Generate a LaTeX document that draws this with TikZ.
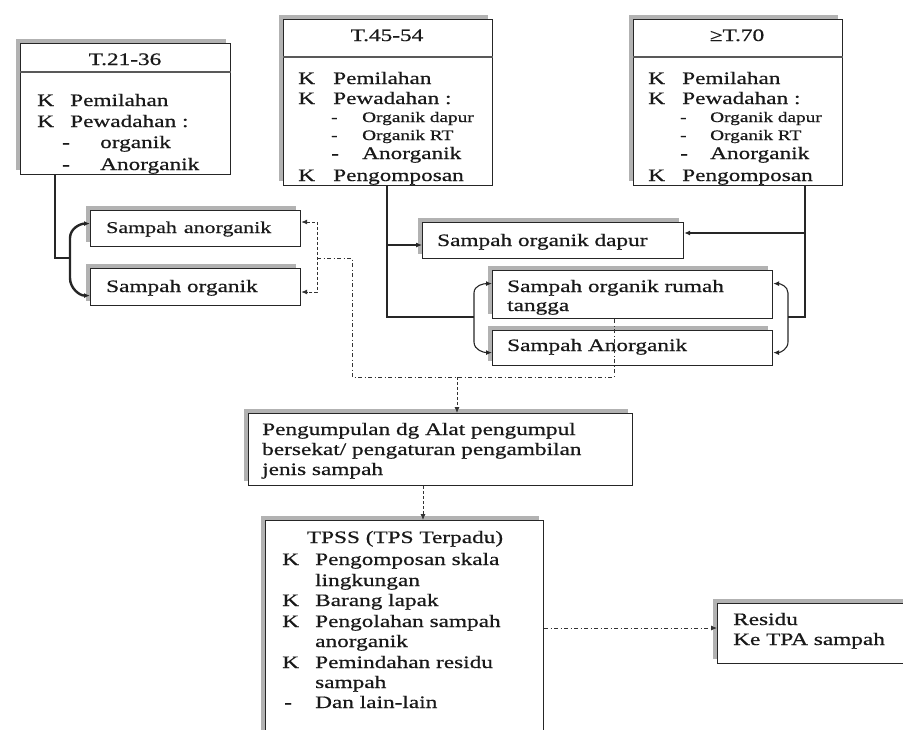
\documentclass[tikz,border=0pt]{standalone}
\usepackage{fontspec}
\setmainfont{Liberation Serif}[FakeStretch=1.33,FakeBold=0.6]
\usetikzlibrary{shadows,arrows.meta}
\begin{document}
\begin{tikzpicture}[x=1pt,y=-1pt,
  box/.style={draw=black!85, line width=1.2pt, fill=white, inner sep=0pt, anchor=north west,
    general shadow={fill=gray!60, shadow xshift=-4.5pt, shadow yshift=4.5pt}},
  t/.style={anchor=base west, inner sep=0pt, font=\fontsize{17.5}{20}\selectfont, text=black!90},
  ts/.style={t, font=\fontsize{14.5}{17}\selectfont},
  tc/.style={t, anchor=base},
  ln/.style={line width=1.1pt, draw=black!85},
  arr/.style={-{Latex[length=6pt,width=5pt]}},
  barr/.style={{Latex[length=6pt,width=5pt]}-{Latex[length=6pt,width=5pt]}},
  dd/.style={line width=0.9pt, draw=black!80, dash pattern=on 4pt off 2.5pt on 1pt off 2.5pt},
  hdr/.style={line width=1.5pt, draw=black!65}
]
\useasboundingbox (0,0) rectangle (903,729);
\clip (0,0) rectangle (903,729);

% ---------- top boxes ----------
\node[box, minimum width=210pt, minimum height=131pt] (b1) at (20,43) {};
\draw[hdr] ([yshift=-29pt]b1.north west) -- ([yshift=-29pt]b1.north east);
\node[box, minimum width=209pt, minimum height=166pt] (b2) at (283,19) {};
\draw[hdr] ([yshift=-38pt]b2.north west) -- ([yshift=-38pt]b2.north east);
\node[box, minimum width=209pt, minimum height=166pt] (b3) at (633,19) {};
\draw[hdr] ([yshift=-38pt]b3.north west) -- ([yshift=-38pt]b3.north east);

\begin{scope}
\clip (b1.north west) rectangle (b1.south east);
\node[tc] (b1h) at (125,65) {T.21-36};
\node[t] (b1k1) at (37,106) {K}; \node[t] (b1l1) at (70,106) {Pemilahan};
\node[t] (b1k2) at (37,127) {K}; \node[t] (b1l2) at (70,127) {Pewadahan :};
\node[t] (b1d3) at (62,148) {-}; \node[t] (b1l3) at (100,148) {organik};
\node[t] (b1d4) at (62,170) {-}; \node[t] (b1l4) at (100,170) {Anorganik};
\end{scope}

\begin{scope}
\clip (b2.north west) rectangle (b2.south east);
\node[tc] (b2h) at (387,41) {T.45-54};
\node[t] (b2k1) at (298,84) {K}; \node[t] (b2l1) at (333,84) {Pemilahan};
\node[t] (b2k2) at (298,104) {K}; \node[t] (b2l2) at (333,104) {Pewadahan :};
\node[ts] (b2d3) at (331,122) {-}; \node[ts] (b2l3) at (362,122) {Organik dapur};
\node[ts] (b2d4) at (331,140) {-}; \node[ts] (b2l4) at (362,140) {Organik RT};
\node[t] (b2d5) at (331,159) {-}; \node[t] (b2l5) at (362,159) {Anorganik};
\node[t] (b2k6) at (298,181) {K}; \node[t] (b2l6) at (333,181) {Pengomposan};
\end{scope}

\begin{scope}
\clip (b3.north west) rectangle (b3.south east);
\node[tc] (b3h) at (737,41) {≥T.70};
\node[t] (b3k1) at (648,84) {K}; \node[t] (b3l1) at (682,84) {Pemilahan};
\node[t] (b3k2) at (648,104) {K}; \node[t] (b3l2) at (682,104) {Pewadahan :};
\node[ts] (b3d3) at (680,122) {-}; \node[ts] (b3l3) at (710,122) {Organik dapur};
\node[ts] (b3d4) at (680,140) {-}; \node[ts] (b3l4) at (710,140) {Organik RT};
\node[t] (b3d5) at (680,159) {-}; \node[t] (b3l5) at (710,159) {Anorganik};
\node[t] (b3k6) at (648,181) {K}; \node[t] (b3l6) at (682,181) {Pengomposan};
\end{scope}

% ---------- middle boxes ----------
\node[box, minimum width=210pt, minimum height=36pt] (SA) at (90,210) {};
\node[t, font=\fontsize{16.5}{20}\selectfont] (SAt) at (106,233) {Sampah\hspace{7pt}anorganik};
\node[box, minimum width=210pt, minimum height=37pt] (SO) at (90,268) {};
\node[t] (SOt) at (106,292) {Sampah organik};

\node[box, minimum width=261pt, minimum height=36pt] (SD) at (422,222) {};
\node[t] (SDt) at (437,246) {Sampah organik dapur};
\node[box, minimum width=280pt, minimum height=48pt] (SR) at (492,270) {};
\node[t] (SRt1) at (507,292) {Sampah organik rumah};
\node[t] (SRt2) at (507,311) {tangga};
\node[box, minimum width=280pt, minimum height=35pt] (SN) at (492,330) {};
\node[t] (SNt) at (507,351) {Sampah Anorganik};

% ---------- lower boxes ----------
\node[box, minimum width=384pt, minimum height=72pt] (PG) at (248,413) {};
\node[t] (PG1) at (262,435) {Pengumpulan dg Alat pengumpul};
\node[t] (PG2) at (262,455) {bersekat/ pengaturan pengambilan};
\node[t] (PG3) at (262,475) {jenis sampah};

\node[box, minimum width=278pt, minimum height=240pt] (TP) at (265,520) {};
\node[tc] (TPh) at (405,543) {TPSS (TPS Terpadu)};
\node[t] (TPk1) at (282,565) {K}; \node[t] (TPl1) at (315,565) {Pengomposan skala};
\node[t] (TPl2) at (315,586) {lingkungan};
\node[t] (TPk3) at (282,606) {K}; \node[t] (TPl3) at (315,606) {Barang lapak};
\node[t] (TPk4) at (282,627) {K}; \node[t] (TPl4) at (315,627) {Pengolahan sampah};
\node[t] (TPl5) at (315,647) {anorganik};
\node[t] (TPk6) at (282,668) {K}; \node[t] (TPl6) at (315,668) {Pemindahan residu};
\node[t] (TPl7) at (315,688) {sampah};
\node[t] (TPd8) at (284,708) {-}; \node[t] (TPl8) at (315,708) {Dan lain-lain};

\node[box, minimum width=210pt, minimum height=60pt] (RS) at (717,603) {};
\node[t] (RS1) at (733,625) {Residu};
\node[t] (RS2) at (733,645) {Ke TPA sampah};

% ---------- connectors: left group ----------
\coordinate (c1) at (55,258);
\coordinate (j1) at (70,258);
\draw[ln] (c1 |- b1.south) -- (c1) -- (j1);
\draw[line width=2.4pt, draw=black!85, barr] ([yshift=5pt]SA.west) to[out=180,in=90] (70,238) -- (70,278) to[out=-90,in=180] ([yshift=-8.5pt]SO.west);

\coordinate (r1) at (317,222);
\coordinate (r2) at (317,292);
\draw[dd, densely dashed, barr] (SA.east |- r1) -- (r1) -- (r2) -- (SO.east |- r2);

\coordinate (m1) at (317,258);
\coordinate (m2) at (352,377);
\coordinate (SRb) at (614,318);
\draw[dd] (m1) -| (m2) -| (SRb);
\coordinate (m4) at (457,377);
\draw[dd, densely dashed, arr] (m4) -- (m4 |- PG.north);

% ---------- connectors: T.45-54 ----------
\coordinate (v1) at (387,317);
\coordinate (k1) at (474,317);
\draw[ln] (v1 |- b2.south) -- (v1) -- (k1);
\draw[ln, arr] (v1 |- 0,245) -- (SD.west |- 0,245);
\draw[ln, barr] ([yshift=11pt]SR.west) to[out=180,in=90] (474,293) -- (474,342) to[out=-90,in=180] ([yshift=-4.5pt]SN.west);

% ---------- connectors: >=T.70 ----------
\coordinate (v2) at (805,317);
\coordinate (k2) at (788,317);
\draw[ln] (v2 |- b3.south) -- (v2) -- (k2);
\draw[ln, arr] (v2 |- 0,233) -- (SD.east |- 0,233);
\draw[ln, barr] ([yshift=11pt]SR.east) to[out=0,in=90] (788,293) -- (788,342) to[out=-90,in=0] ([yshift=-4.5pt]SN.east);

% ---------- lower connectors ----------
\coordinate (p1) at (423,485);
\draw[dd, densely dashed, arr] (p1 |- PG.south) -- (p1 |- TP.north);
\coordinate (q1) at (543,628);
\draw[dd, arr] (TP.east |- q1) -- (RS.west |- q1);
\end{tikzpicture}
\end{document}
